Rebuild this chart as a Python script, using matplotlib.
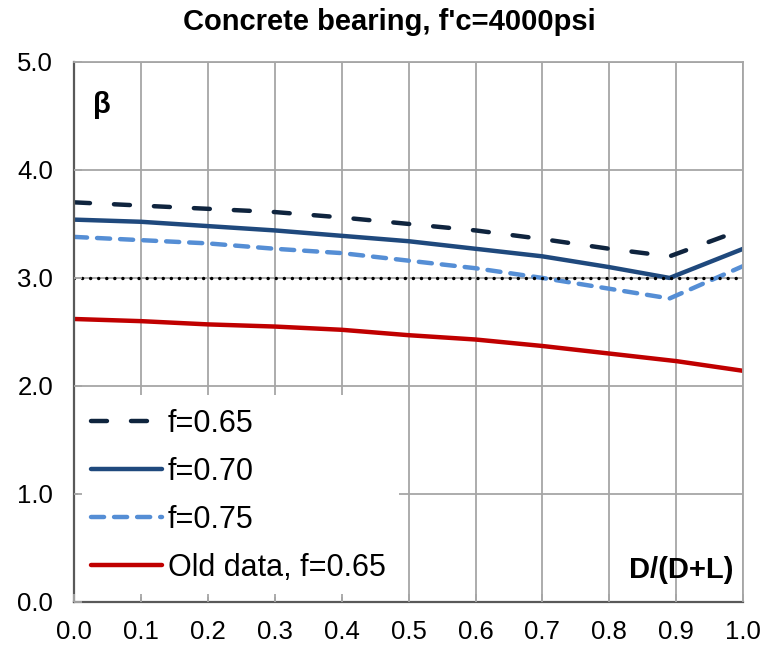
import matplotlib
matplotlib.use('Agg')
import matplotlib.pyplot as plt

plt.rcParams['font.family'] = ['Liberation Sans', 'DejaVu Sans']
plt.rcParams['lines.scale_dashes'] = False

# D/(D+L) values, kink at D/L = 8
ratio = [0.0, 0.1, 0.2, 0.3, 0.4, 0.5, 0.6, 0.7, 0.8, 0.89, 1.0]
beta_065 = [3.70, 3.67, 3.64, 3.61, 3.56, 3.50, 3.44, 3.36, 3.27, 3.20, 3.45]
beta_070 = [3.54, 3.52, 3.48, 3.44, 3.39, 3.34, 3.27, 3.20, 3.10, 3.00, 3.27]
beta_075 = [3.38, 3.35, 3.32, 3.27, 3.23, 3.16, 3.09, 3.00, 2.90, 2.81, 3.11]

ratio_old = [0.0, 0.1, 0.2, 0.3, 0.4, 0.5, 0.6, 0.7, 0.8, 0.9, 1.0]
beta_old = [2.62, 2.60, 2.57, 2.55, 2.52, 2.47, 2.43, 2.37, 2.30, 2.23, 2.14]

target_beta = 3.0
x_ticks = [0.0, 0.1, 0.2, 0.3, 0.4, 0.5, 0.6, 0.7, 0.8, 0.9, 1.0]
y_ticks = [0.0, 1.0, 2.0, 3.0, 4.0, 5.0]

GRID = '#A6A6A6'; AXC = '#595959'

fig = plt.figure(figsize=(7.63, 6.45), dpi=100)
ax = fig.add_axes([0.097, 0.0667, 0.877, 0.8373])

# grid drawn by hand so the legend box can sit above it but below the ticks
for xv in x_ticks:
    ax.axvline(xv, color=GRID, lw=1.3, zorder=0.5)
for yv in y_ticks:
    ax.axhline(yv, color=GRID, lw=1.3, zorder=0.5)

ax.plot(ratio, beta_065, color='#0F243E', lw=3.2, dashes=(11.5, 17.3),
        dash_capstyle='round', label='f=0.65', zorder=2)
ax.plot(ratio, beta_070, color='#1F497D', lw=3.2, solid_capstyle='round',
        label='f=0.70', zorder=2)
ax.plot(ratio, beta_075, color='#558ED5', lw=3.2, dashes=(9.4, 7.2),
        dash_capstyle='round', label='f=0.75', zorder=2)
ax.plot(ratio_old, beta_old, color='#C00000', lw=3.2, solid_capstyle='round',
        label='Old data, f=0.65', zorder=2)
ax.axhline(target_beta, color='black', lw=2.5, dashes=(0.01, 5.8),
           dash_capstyle='round', zorder=2)

ax.set_xlim(0, 1); ax.set_ylim(0, 5)
ax.set_xticks(x_ticks); ax.set_yticks(y_ticks)
ax.set_xticklabels([f'{v:.1f}' for v in x_ticks])
ax.set_yticklabels([f'{v:.1f}' for v in y_ticks])
ax.tick_params(direction='in', length=6, width=1.3, color=GRID,
               labelsize=18.5)
ax.tick_params(axis='x', pad=13)
ax.tick_params(axis='y', pad=15)
ax.set_axisbelow(False)
for s in ('left', 'bottom'):
    ax.spines[s].set_color(AXC); ax.spines[s].set_linewidth(1.6)
for s in ('top', 'right'):
    ax.spines[s].set_color(GRID); ax.spines[s].set_linewidth(1.3)

leg = ax.legend(loc='upper left', bbox_to_anchor=(0.0055, 0.383), fontsize=22,
                frameon=True, fancybox=False, framealpha=1.0, edgecolor='none',
                facecolor='white', handlelength=2.3, handletextpad=0.2,
                labelspacing=0.59, borderpad=0.45, borderaxespad=0.0)
leg.set_zorder(1.5)

ax.text(0.028, 0.92, 'β', transform=ax.transAxes, fontsize=21,
        fontweight='bold', va='center', ha='left')
ax.text(0.986, 0.059, 'D/(D+L)', transform=ax.transAxes, fontsize=21,
        fontweight='bold', va='center', ha='right')
fig.suptitle("Concrete bearing, f'c=4000psi", x=0.5105, y=0.966, fontsize=21,
             fontweight='bold', va='center')

fig.savefig('out.png', dpi=100, facecolor='white')
